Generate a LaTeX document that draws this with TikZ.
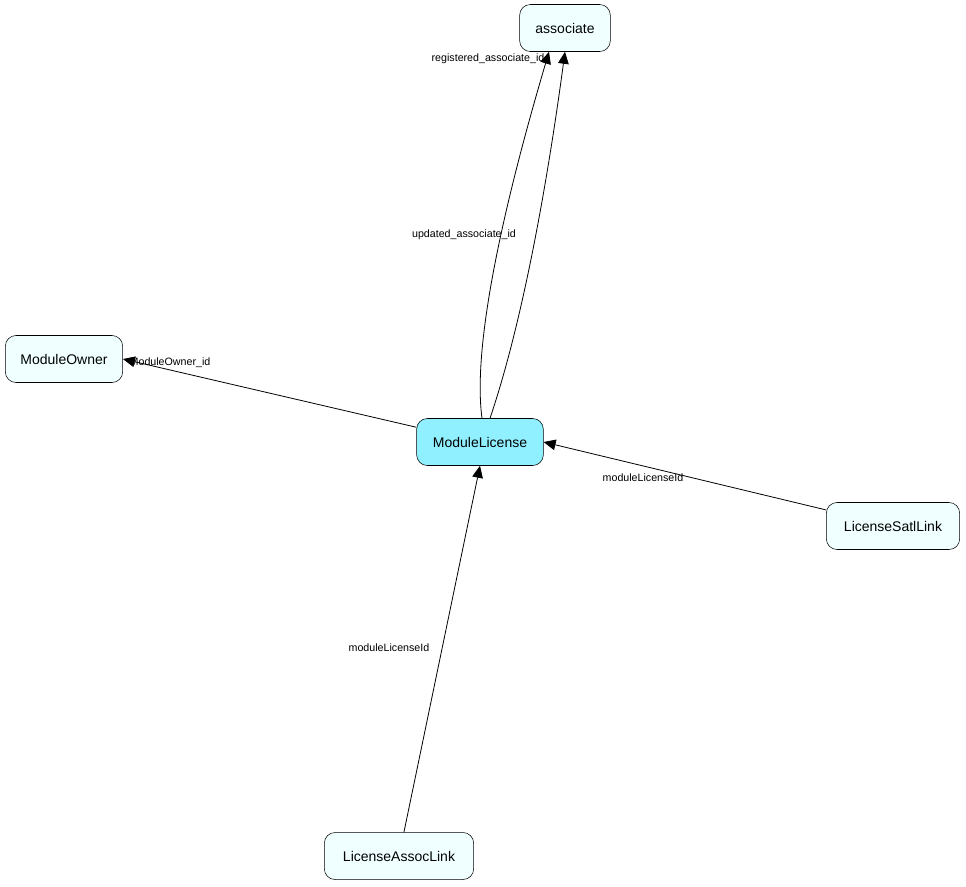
\documentclass[tikz,border=0pt]{standalone}
\usepackage{fontspec}
\setmainfont{Liberation Sans}
\usetikzlibrary{arrows.meta, positioning}
\definecolor{boxfill}{HTML}{F0FFFF}
\definecolor{mainfill}{HTML}{90F0FF}
\tikzset{
    entity/.style={draw, rounded corners=8pt, fill=boxfill, minimum height=35.25pt, inner xsep=7pt, font=\fontsize{10.5pt}{12pt}\selectfont},
    fk/.style={-{Triangle[length=9pt, width=8pt]}, semithick},
    fklabel/.style={font=\fontsize{8pt}{9pt}\selectfont, inner sep=1pt}
}
\begin{document}
\begin{tikzpicture}[x=0.75pt, y=-0.75pt]
    \useasboundingbox (0,0) rectangle (966,886);
    \node[entity, minimum width=68pt] (associate) at (565,28) {associate};
    \node[entity, minimum width=88pt] (owner) at (64,359) {ModuleOwner};
    \node[entity, minimum width=95pt, fill=mainfill] (license) at (480,442) {ModuleLicense};
    \node[entity, minimum width=100pt] (satl) at (893,526) {LicenseSatlLink};
    \node[entity, minimum width=112pt] (assoc) at (399,856) {LicenseAssocLink};
    % foreign keys
    \draw[fk] (license.north) ++(2,0) .. controls (470,330) and (520,150) .. ([xshift=-12]associate.south);
    \draw[fk] (license.north) ++(10,0) .. controls (520,330) and (545,200) .. (associate.south);
    \draw[fk] (license) -- (owner.east);
    \draw[fk] (satl) -- (license.east);
    \draw[fk] (assoc) -- (license.south);
    \node[fklabel] (lreg) at (488,59) {registered\_associate\_id};
    \node[fklabel] (lupd) at (464,235) {updated\_associate\_id};
    \node[fklabel] (lown) at (170,363) {ModuleOwner\_id};
    \node[fklabel] (lsatl) at (643,478) {moduleLicenseId};
    \node[fklabel] (lassoc) at (389,648) {moduleLicenseId};
\end{tikzpicture}
\end{document}
